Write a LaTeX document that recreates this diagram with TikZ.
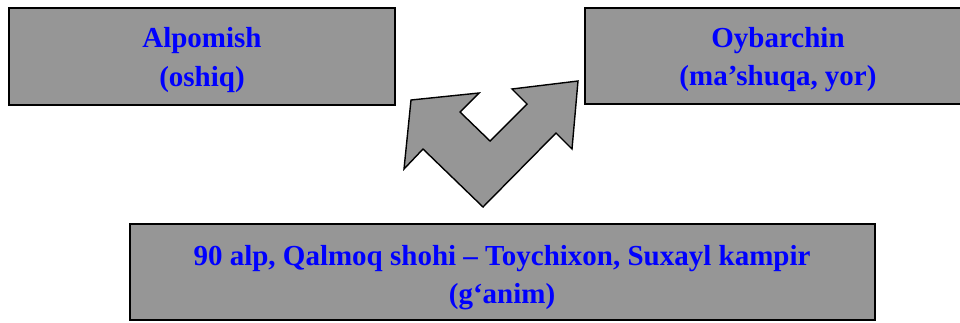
\documentclass[tikz,border=0pt]{standalone}
\usepackage{fontspec}
\setmainfont{Liberation Serif}
\definecolor{boxgray}{RGB}{150,150,150}
\begin{document}
\begin{tikzpicture}[x=1pt,y=-1pt,
  box/.style={draw=black,line width=2pt,fill=boxgray,inner sep=0pt},
  lbl/.style={text=blue,font=\bfseries\fontsize{29}{38.5}\selectfont,align=center,inner sep=0pt}]
\useasboundingbox (0,0) rectangle (960,322);
\clip (0,0) rectangle (960,322);
% boxes
\node[box,minimum width=386pt,minimum height=97pt] (alp) at (202,56.5) {};
\node[box,minimum width=386pt,minimum height=96pt] (oyb) at (778,56) {};
\node[box,minimum width=745pt,minimum height=96pt] (gan) at (502,272) {};
% labels
\node[lbl] (alpt) at ([yshift=-3.5pt]alp.center) {Alpomish\\(oshiq)};
\node[lbl] (oybt) at ([yshift=-3.5pt]oyb.center) {Oybarchin\\(ma’shuqa, yor)};
\node[lbl] (gant) at ([yshift=-5.5pt]gan.center) {90 alp, Qalmoq shohi – Toychixon, Suxayl kampir\\(g‘anim)};
% double arrow
\draw[line width=1.4pt,fill=boxgray,line join=miter]
  (411,100) -- (479,93) -- (460,112) -- (490,141) -- (527,104) -- (512,89)
  -- (578,81) -- (572,149) -- (556,133) -- (483,207) -- (423,149) -- (404,169) -- cycle;
\end{tikzpicture}
\end{document}
